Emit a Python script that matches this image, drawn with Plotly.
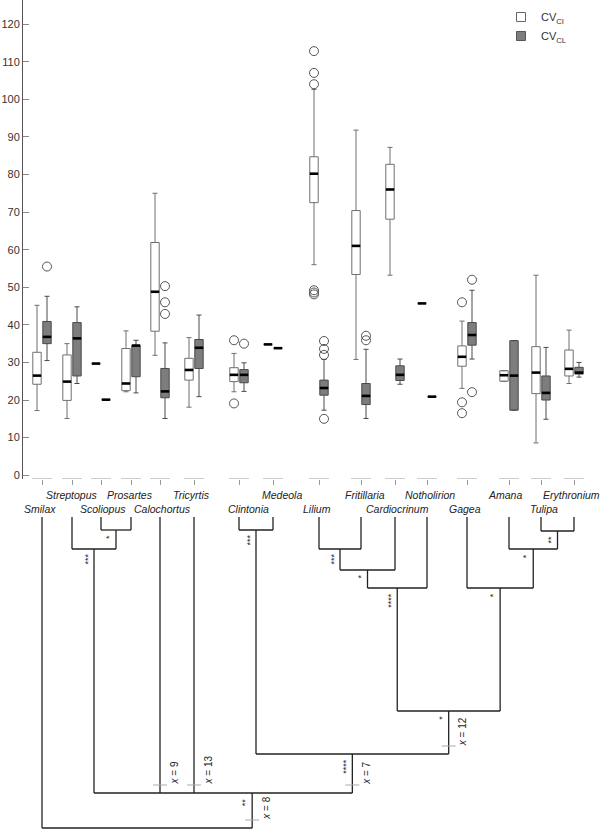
import plotly.graph_objects as go

# ---------------- data ----------------
GENERA = ["Smilax", "Streptopus", "Scoliopus", "Prosartes", "Calochortus", "Tricyrtis",
          "Clintonia", "Medeola", "Lilium", "Fritillaria", "Cardiocrinum", "Notholirion",
          "Gagea", "Amana", "Tulipa", "Erythronium"]

CI_LO  = [17.2, 15.1, 29.7, 22.2, 31.9, 18.1, 22.2, 34.8, 56.0, 30.8, 53.2, 45.7, 23.1, 25.0, 8.6, 24.4]
CI_Q1  = [24.2, 19.9, 29.7, 22.5, 38.3, 25.3, 24.9, 34.8, 72.5, 53.4, 68.1, 45.7, 29.0, 25.0, 21.7, 26.4]
CI_MED = [26.5, 24.9, 29.7, 24.4, 48.8, 28.0, 26.7, 34.8, 80.2, 61.0, 76.0, 45.7, 31.5, 26.6, 27.3, 28.3]
CI_Q3  = [32.7, 32.0, 29.7, 33.7, 61.9, 31.1, 28.6, 34.8, 84.7, 70.4, 82.7, 45.7, 34.4, 27.8, 34.2, 33.3]
CI_HI  = [45.2, 35.0, 29.7, 38.4, 75.0, 36.6, 32.4, 34.8, 102.6, 91.8, 87.2, 45.7, 41.0, 27.8, 53.2, 38.6]
CI_OUT = [[], [], [], [], [], [], [35.9, 19.1], [], [112.8, 107.0, 104.0, 49.2, 48.6, 48.1],
          [], [], [], [46.0, 19.4, 16.5], [], [], []]

CL_LO  = [30.5, 24.4, 20.1, 21.9, 15.1, 20.9, 22.3, 33.8, 17.3, 15.1, 24.2, 20.9, 30.9, 17.3, 14.9, 26.1]
CL_Q1  = [35.0, 26.4, 20.1, 26.2, 20.6, 28.4, 24.6, 33.8, 21.3, 18.8, 25.2, 20.9, 34.6, 17.3, 20.0, 26.9]
CL_MED = [36.8, 36.4, 20.1, 34.5, 22.3, 33.9, 26.7, 33.8, 23.2, 21.1, 26.7, 20.9, 37.3, 26.5, 21.9, 27.3]
CL_Q3  = [40.9, 40.6, 20.1, 34.5, 28.4, 36.1, 28.1, 33.8, 25.3, 24.4, 29.1, 20.9, 40.6, 35.8, 26.4, 28.7]
CL_HI  = [47.6, 44.8, 20.1, 35.9, 35.2, 42.6, 29.9, 33.8, 30.8, 33.5, 30.9, 20.9, 49.2, 35.8, 34.0, 30.0]
CL_OUT = [[55.5], [], [], [], [50.3, 46.0, 42.9], [], [35.0], [], [35.7, 33.6, 32.0, 15.0],
          [37.1, 35.9], [], [], [52.0, 22.1], [], [], []]

Y_TICKS = list(range(0, 121, 10))

# phylogeny: internal nodes (children listed before parents), node depth, support
NODE_NAMES    = ["SP", "StSP", "CM", "LF", "LFC", "LFCN", "TE", "ATE", "GATE", "LIL", "CLI", "CORE", "ROOT"]
NODE_CHILDREN = [["Scoliopus", "Prosartes"], ["Streptopus", "SP"], ["Clintonia", "Medeola"],
                 ["Lilium", "Fritillaria"], ["LF", "Cardiocrinum"], ["LFC", "Notholirion"],
                 ["Tulipa", "Erythronium"], ["Amana", "TE"], ["Gagea", "ATE"], ["LFCN", "GATE"],
                 ["CM", "LIL"], ["StSP", "Calochortus", "Tricyrtis", "CLI"], ["Smilax", "CORE"]]
NODE_DEPTH    = [13, 32, 13, 32, 53, 71, 14, 32, 71, 194, 237, 276, 311]
NODE_SUPPORT  = ["*", "***", "***", "***", "*", "****", "**", "*", "*", "*", "****", "**", ""]
CHROM_BRANCH  = ["Calochortus", "Tricyrtis", "CORE", "CLI", "LIL"]
CHROM_NUMBER  = [9, 13, 8, 7, 12]

# ---------------- layout constants ----------------
W, H = 600, 831
GROUP_POS = [42, 72, 101, 131, 160, 194, 239, 273, 319, 361, 395, 427, 467, 509, 541, 574]
LABEL_DX = [-2, 0, 2, -1, 2, -3, 9, 9, -2, 4, 2, 3, -2, -4, 3, -3]
OFFSET = 5.0
BOX_W = 8.4
STEM_SHIFT = {"CORE": 29}
AXIS_BOTTOM_PX = 479.0
TREE_TOP_PX = 517.0
FONT = "Liberation Sans, Arial, sans-serif"

fig = go.Figure()

ci_x = [p - OFFSET for p in GROUP_POS]
cl_x = [p + OFFSET for p in GROUP_POS]

fig.add_trace(go.Box(x=ci_x, q1=CI_Q1, median=CI_MED, q3=CI_Q3, lowerfence=CI_LO, upperfence=CI_HI,
                     width=BOX_W, whiskerwidth=0.6, fillcolor="white",
                     line=dict(color="#6f6f6f", width=1), boxpoints=False, showlegend=False,
                     xaxis="x", yaxis="y"))
fig.add_trace(go.Box(x=cl_x, q1=CL_Q1, median=CL_MED, q3=CL_Q3, lowerfence=CL_LO, upperfence=CL_HI,
                     width=BOX_W, whiskerwidth=0.6, fillcolor="#7d7d7d",
                     line=dict(color="#4a4a4a", width=1), boxpoints=False, showlegend=False,
                     xaxis="x", yaxis="y"))

# thick black medians
mx, my = [], []
for xs, meds in ((ci_x, CI_MED), (cl_x, CL_MED)):
    for x, m in zip(xs, meds):
        mx += [x - BOX_W / 2, x + BOX_W / 2, None]
        my += [m, m, None]
fig.add_trace(go.Scatter(x=mx, y=my, mode="lines", line=dict(color="black", width=2.6),
                         showlegend=False, hoverinfo="skip"))

# outliers
ox, oy = [], []
for xs, outs in ((ci_x, CI_OUT), (cl_x, CL_OUT)):
    for x, vals in zip(xs, outs):
        for v in vals:
            ox.append(x)
            oy.append(v)
fig.add_trace(go.Scatter(x=ox, y=oy, mode="markers",
                         marker=dict(symbol="circle-open", size=9, color="#555", line=dict(width=1)),
                         showlegend=False, hoverinfo="skip"))

# category baseline segments
Y_MIN, Y_MAX = -1.0, 126.4
sx, sy = [], []
for p in GROUP_POS:
    sx += [p - 10, p + 10, None]
    sy += [Y_MIN, Y_MIN, None]
fig.add_trace(go.Scatter(x=sx, y=sy, mode="lines", line=dict(color="#9a9a9a", width=1),
                         cliponaxis=False, showlegend=False, hoverinfo="skip"))

# legend entries
fig.add_trace(go.Scatter(x=[None], y=[None], mode="markers", name="CV<sub>CI</sub>",
                         marker=dict(symbol="square", size=9, color="white", line=dict(color="#666", width=1))))
fig.add_trace(go.Scatter(x=[None], y=[None], mode="markers", name="CV<sub>CL</sub>",
                         marker=dict(symbol="square", size=9, color="#7d7d7d", line=dict(color="#555", width=1))))

# ---------------- tree ----------------
xpos = {g: p for g, p in zip(GENERA, GROUP_POS)}
depth = {g: 0 for g in GENERA}
for name, ch, d in zip(NODE_NAMES, NODE_CHILDREN, NODE_DEPTH):
    xs = [xpos[c] for c in ch]
    xpos[name] = (min(xs) + max(xs)) / 2 + STEM_SHIFT.get(name, 0)
    depth[name] = d
parent = {}
for name, ch in zip(NODE_NAMES, NODE_CHILDREN):
    for c in ch:
        parent[c] = name

tx, ty = [], []
for name, ch in zip(NODE_NAMES, NODE_CHILDREN):
    xs = [xpos[c] for c in ch]
    tx += [min(xs), max(xs), None]
    ty += [depth[name], depth[name], None]
    for c in ch:
        tx += [xpos[c], xpos[c], None]
        ty += [depth[c], depth[name], None]
fig.add_trace(go.Scatter(x=tx, y=ty, mode="lines", line=dict(color="#222", width=1.3),
                         xaxis="x2", yaxis="y2", cliponaxis=False, showlegend=False, hoverinfo="skip"))

# chromosome ticks
cx, cy = [], []
annotations = []
for b, n in zip(CHROM_BRANCH, CHROM_NUMBER):
    yd = depth[parent[b]] - 8
    cx += [xpos[b] - 7, xpos[b] + 7, None]
    cy += [yd, yd, None]
    annotations.append(dict(x=xpos[b] + 14, y=yd + 2, xref="x2", yref="y2", text=f"<i>x</i> = {n}",
                            textangle=-90, showarrow=False, xanchor="center", yanchor="bottom",
                            font=dict(family=FONT, size=10, color="#222")))
fig.add_trace(go.Scatter(x=cx, y=cy, mode="lines", line=dict(color="#aaaaaa", width=1),
                         xaxis="x2", yaxis="y2", showlegend=False, hoverinfo="skip"))

for name, sup in zip(NODE_NAMES, NODE_SUPPORT):
    if sup:
        annotations.append(dict(x=xpos[name] - 7, y=depth[name] + 3, xref="x2", yref="y2", text=sup,
                                textangle=-90, showarrow=False, xanchor="center", yanchor="top",
                                font=dict(family=FONT, size=9, color="#222")))

# genus labels, alternating rows
for i, (g, p) in enumerate(zip(GENERA, GROUP_POS)):
    ypx = 509 if i % 2 == 0 else 495
    annotations.append(dict(x=p + LABEL_DX[i], y=1 - ypx / H, xref="x", yref="paper", text=f"<i>{g}</i>",
                            showarrow=False, xanchor="center", yanchor="middle",
                            font=dict(family=FONT, size=10.5, color="#222")))

fig.update_layout(
    width=W, height=H, margin=dict(l=0, r=0, t=0, b=0, pad=0, autoexpand=False),
    paper_bgcolor="white", plot_bgcolor="white",
    font=dict(family=FONT, size=11, color="#333"),
    boxmode="overlay",
    xaxis=dict(domain=[0, 1], range=[0, W], anchor="y", showgrid=False, zeroline=False, showline=False,
               tickvals=GROUP_POS, ticks="outside", ticklen=5, tickcolor="#9a9a9a",
               showticklabels=False, fixedrange=True, automargin=False),
    yaxis=dict(domain=[1 - AXIS_BOTTOM_PX / H, 1], range=[Y_MIN, Y_MAX], anchor="free", position=22 / W,
               tickvals=Y_TICKS, ticks="inside", ticklen=6, tickcolor="#888", showline=True,
               linecolor="#555", linewidth=1, showgrid=False, zeroline=False, automargin=False,
               tickfont=dict(family=FONT, size=11, color="#333")),
    xaxis2=dict(domain=[0, 1], range=[0, W], anchor="y2", visible=False, automargin=False),
    yaxis2=dict(domain=[0, 1 - TREE_TOP_PX / H], range=[314, 0], anchor="x2", visible=False,
                automargin=False),
    legend=dict(x=0.835, y=0.997, xanchor="left", yanchor="top", bgcolor="rgba(0,0,0,0)",
                font=dict(family=FONT, size=11, color="#333"), itemwidth=30, tracegroupgap=0),
    annotations=annotations,
)

fig.write_html("out.html", config={"displayModeBar": False},
               post_script="document.body.style.margin='0';document.body.style.padding='0';"
                           "document.documentElement.style.overflow='hidden';")
